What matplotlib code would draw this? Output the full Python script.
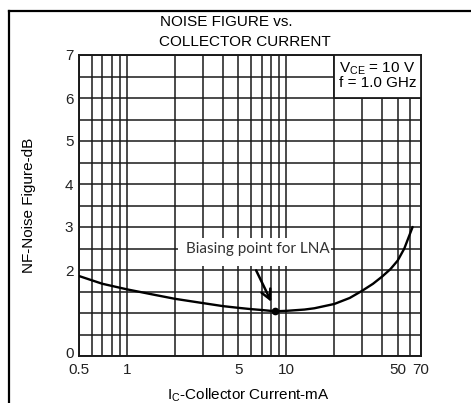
import numpy as np
import matplotlib
matplotlib.use("Agg")
import matplotlib.pyplot as plt
from matplotlib.patches import Rectangle
from matplotlib.lines import Line2D
from matplotlib.transforms import ScaledTranslation
from matplotlib.ticker import LogLocator, NullFormatter, FixedLocator

plt.rcParams['font.family'] = ['Liberation Sans', 'DejaVu Sans']
plt.rcParams['mathtext.fontset'] = 'custom'
plt.rcParams['mathtext.rm'] = 'Liberation Sans'
plt.rcParams['mathtext.it'] = 'Liberation Sans:italic'
plt.rcParams['mathtext.bf'] = 'Liberation Sans:bold'

# ---- data ----
ic_ma = [0.5, 0.7, 1.0, 1.5, 2.0, 3.0, 4.0, 5.0, 6.0, 7.0, 8.5, 10.0, 13.0, 15.0, 20.0, 25.0, 30.0, 35.0, 40.0, 45.0, 50.0, 55.0, 62.0]
nf_db = [1.86, 1.68, 1.55, 1.42, 1.33, 1.23, 1.16, 1.12, 1.09, 1.07, 1.04, 1.05, 1.08, 1.11, 1.21, 1.35, 1.52, 1.68, 1.85, 2.02, 2.22, 2.5, 3.0]
bias_point = (8.5, 1.04)
x_tick_vals = [0.5, 1, 5, 10, 50, 70]
x_tick_labels = ['0.5', '1', '5', '10', '50', '70']
y_grid_vals = [0, 0.5, 1, 1.5, 2, 2.5, 3, 3.5, 4, 4.5, 5, 5.5, 6, 6.5, 7]
y_tick_labels = ['0', '', '', '', '2', '', '3', '', '4', '', '5', '', '6', '', '7']

W, H = 471, 403
fig = plt.figure(figsize=(W / 100, H / 100), dpi=100)
ax = fig.add_axes([79 / W, 1 - 356 / H, (421 - 79) / W, (356 - 55) / H])

ax.set_xscale('log')
ax.set_xlim(0.5, 70)
ax.set_ylim(0, 7)

ax.xaxis.set_major_locator(FixedLocator(x_tick_vals))
ax.set_xticklabels(x_tick_labels)
ax.xaxis.set_minor_locator(LogLocator(base=10, subs=np.arange(2, 10), numticks=20))
ax.xaxis.set_minor_formatter(NullFormatter())
ax.set_yticks(y_grid_vals)
ax.set_yticklabels(y_tick_labels)

ax.tick_params(which='both', length=0, labelsize=11, pad=4, colors='#222222')
ax.tick_params(axis='x', pad=5)
ax.set_axisbelow(True)
ax.grid(True, which='major', axis='both', color='#1a1a1a', lw=1.1)
ax.grid(True, which='minor', axis='x', color='#1a1a1a', lw=1.1)
for s in ax.spines.values():
    s.set_color('#1a1a1a')
    s.set_linewidth(1.4)

# nudge the "0" label up a little, as in the reference
zero_lbl = ax.yaxis.get_major_ticks()[0].label1
zero_lbl.set_transform(zero_lbl.get_transform() + ScaledTranslation(0, 4 / 100, fig.dpi_scale_trans))

# curve
ax.plot(ic_ma, nf_db, color='black', lw=1.7, zorder=4, solid_capstyle='round')
ax.plot([bias_point[0]], [bias_point[1]], 'o', color='black', ms=4.5, zorder=5)

# condition box
ax.add_patch(Rectangle((20, 6), 50, 1, facecolor='white', edgecolor='#1a1a1a', lw=1.3, zorder=3))
ax.text(21.3, 6.68, r'V$_{\mathrm{CE}}$ = 10 V', fontsize=11, va='center', ha='left', zorder=6)
ax.text(21.3, 6.34, 'f = 1.0 GHz', fontsize=11, va='center', ha='left', zorder=6)

# annotation
ax.add_patch(Rectangle((2.1, 2.09), 19.0 - 2.1, 0.65, facecolor='white', edgecolor='none', zorder=3))
ax.text(6.6, 2.49, 'Biasing point for LNA', fontsize=11, family=['Lato', 'DejaVu Sans'],
        color='#333333', ha='center', va='center', zorder=6)
ax.annotate('', xy=(8.2, 1.2), xytext=(6.35, 2.05),
            arrowprops=dict(arrowstyle='->,head_length=0.7,head_width=0.35', color='black', lw=1.8),
            zorder=6)

# titles / labels
fig.text(226 / W, 1 - 22 / H, 'NOISE FIGURE vs.', fontsize=11, ha='center', va='center')
fig.text(245 / W, 1 - 42 / H, 'COLLECTOR CURRENT', fontsize=11, ha='center', va='center')
fig.text(29 / W, 1 - 205 / H, 'NF-Noise Figure-dB', fontsize=11, rotation=90, ha='center', va='center')
fig.text(248 / W, 1 - 395 / H, r'I$_{\mathrm{C}}$-Collector Current-mA', fontsize=11, ha='center', va='center')

# outer frame (top and left)
fig.add_artist(Line2D([9 / W, 9 / W], [0, 1 - 11 / H], color='black', lw=1.6, transform=fig.transFigure))
fig.add_artist(Line2D([9 / W, 1], [1 - 11 / H, 1 - 11 / H], color='black', lw=1.6, transform=fig.transFigure))

fig.savefig('out.png', dpi=100)
